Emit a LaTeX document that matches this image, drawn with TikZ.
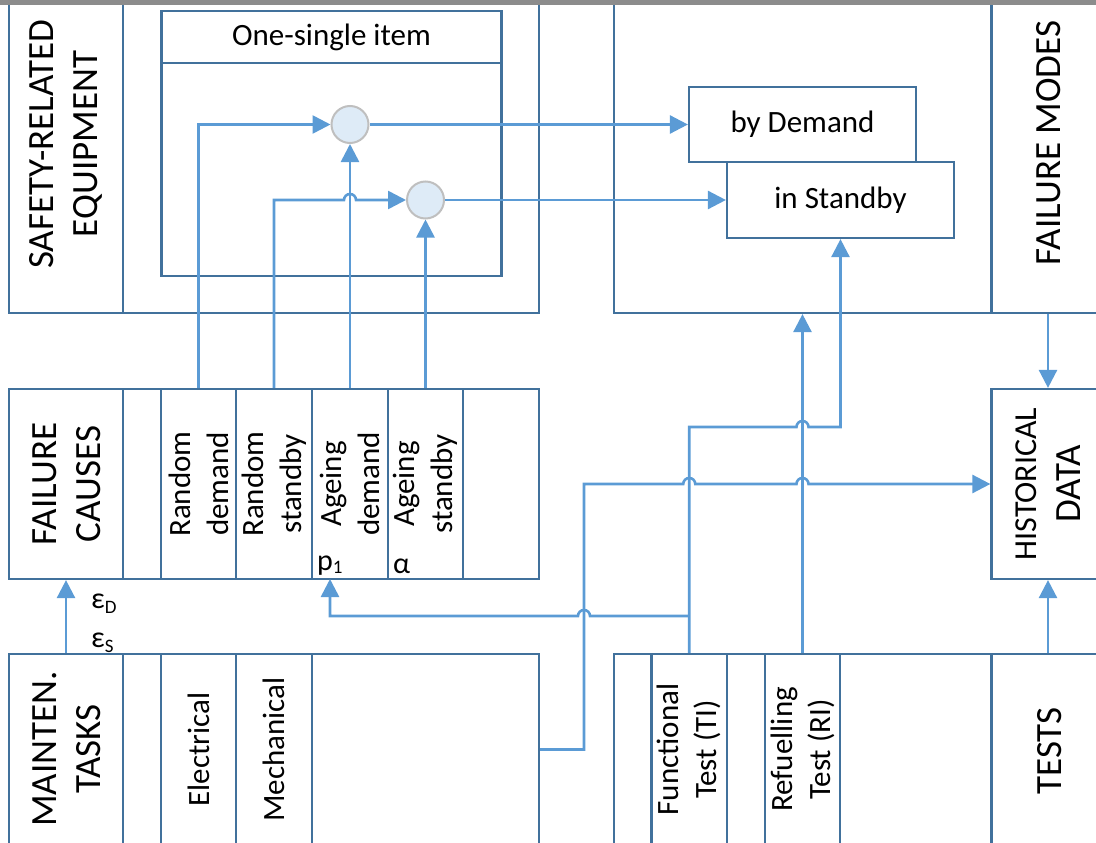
\documentclass[tikz,border=0pt]{standalone}
\usepackage{fontspec}
\setmainfont{Carlito}
\usetikzlibrary{arrows.meta,fit,calc}
\definecolor{boxc}{HTML}{41719C}
\definecolor{arrc}{HTML}{5B9BD5}
\definecolor{circf}{HTML}{DEEBF7}
\definecolor{circb}{HTML}{BFBFBF}
\definecolor{barc}{HTML}{8C8C8C}
\tikzset{
  cell/.style={draw=boxc, line width=2.2pt, inner sep=0pt},
  rot/.style={rotate=90, align=center, inner sep=0pt},
  bigf/.style={font=\fontsize{37}{44}\selectfont},
  midf/.style={font=\fontsize{31}{38}\selectfont},
  arr/.style={draw=arrc, line width=2.6pt, -{Triangle[length=18pt,width=18pt]}},
  gate/.style={circle, draw=circb, line width=2pt, fill=circf, minimum size=37pt, inner sep=0pt},
}
\begin{document}
\begin{tikzpicture}[x=1pt,y=-1pt]
\useasboundingbox (0,0) rectangle (1096,843);
\clip (0,0) rectangle (1096,843);
% top row
\node[cell, fit={(9,-20) (123,313)}] (sL) {};
\node[cell, fit={(123,-20) (539,313)}] (sB) {};
\node[cell, fit={(161.5,11) (501.5,276)}] (item) {};
\node[cell, fit={(161.5,11) (501.5,63)}] (itemH) {};
\node[cell, fit={(614,-20) (991.5,313)}] (fmB) {};
\node[cell, fit={(991.5,-20) (1104.5,313)}] (fmL) {};
\node[cell, fit={(689,87) (916,162)}] (dem) {};
\node[cell, fit={(727,162) (954,238)}] (stb) {};
\node[midf, inner sep=0pt] (tItem) at (itemH.center) {One-single item};
\node[midf, inner sep=0pt] (tDem) at (dem.center) {by Demand};
\node[midf, inner sep=0pt] (tStb) at (stb.center) {in Standby};
% middle row
\node[cell, fit={(9,389) (123,579)}] (cL) {};
\node[cell, fit={(123,389) (161,579)}] (cB1) {};
\node[cell, fit={(161,389) (236,579)}] (rd) {};
\node[cell, fit={(236,389) (312,579)}] (rs) {};
\node[cell, fit={(312,389) (388,579)}] (ad) {};
\node[cell, fit={(388,389) (463,579)}] (as) {};
\node[cell, fit={(463,389) (539,579)}] (cB2) {};
\node[cell, fit={(991.5,389) (1104.5,579)}] (hist) {};
% bottom row
\node[cell, fit={(9,654) (123,845)}] (mL) {};
\node[cell, fit={(123,654) (161,845)}] (mB1) {};
\node[cell, fit={(161,654) (236,845)}] (el) {};
\node[cell, fit={(236,654) (312,845)}] (me) {};
\node[cell, fit={(312,654) (539,845)}] (mB) {};
\node[cell, fit={(614,654) (651.5,845)}] (tB1) {};
\node[cell, fit={(651.5,654) (727,845)}] (ft) {};
\node[cell, fit={(727,654) (765,845)}] (tB2) {};
\node[cell, fit={(765,654) (840,845)}] (rt) {};
\node[cell, fit={(840,654) (991.5,845)}] (tB3) {};
\node[cell, fit={(991.5,654) (1104.5,845)}] (tL) {};
% labels
\node[rot, bigf] (tS) at (66,144) {SAFETY-RELATED\\EQUIPMENT};
\node[rot, bigf] (tFM) at (1049,143) {FAILURE MODES};
\node[rot, bigf] (tFC) at (67,484) {FAILURE\\CAUSES};
\node[rot, bigf] (tH) at (1048,484) {{\fontsize{32}{38}\selectfont HISTORICAL}\\DATA};
\node[rot, bigf] (tMT) at (67,749) {MAINTEN.\\TASKS};
\node[rot, bigf] (tT) at (1050,751) {TESTS};
\node[rot, midf] (tRD) at (rd.center) {Random\\demand};
\node[rot, midf] (tRS) at (rs.center) {Random\\standby};
\node[rot, midf] (tAD) at (ad.center) {Ageing\\demand};
\node[rot, midf] (tAS) at (as.center) {Ageing\\standby};
\node[rot, midf] (tEl) at (el.center) {Electrical};
\node[rot, midf] (tMe) at (me.center) {Mechanical};
\node[rot, midf] (tFT) at (ft.center) {Functional\\Test (TI)};
\node[rot, midf] (tRT) at (rt.center) {Refuelling\\Test (RI)};
\node[anchor=west, inner sep=0pt, font=\fontsize{30}{36}\selectfont] (eD) at (91,604) {ε{\fontsize{19}{20}\selectfont\raisebox{-5pt}{D}}};
\node[anchor=west, inner sep=0pt, font=\fontsize{30}{36}\selectfont] (eS) at (91,643) {ε{\fontsize{19}{20}\selectfont\raisebox{-5pt}{S}}};
\node[anchor=west, inner sep=0pt, font=\fontsize{30}{36}\selectfont] (p1) at (317,566) {p{\fontsize{19}{20}\selectfont\raisebox{-3pt}{1}}};
\node[anchor=west, inner sep=0pt, font=\fontsize{30}{36}\selectfont] (al) at (393,566) {α};
% gates
\node[gate] (c1) at (350,124.5) {};
\node[gate] (c2) at (425.5,200) {};
% connectors
\draw[arr] (rd.north) |- (c1.west);
\draw[arr] (rs.north) |- ($(ad.north |- c2.west)+(-6,0)$) arc[start angle=180,end angle=0,radius=6pt] -- (c2.west);
\draw[arr] (ad.north) -- (c1.south);
\draw[arr] (as.north) -- (c2.south);
\draw[arr] (c1.east) -- (dem.west);
\draw[arr] (c2.east) -- (stb.west);
\draw[arr] (fmL.south) -- (hist.north);
\draw[arr] (tL.north) -- (hist.south);
\draw[arr] (mL.north) -- (cL.south);
\coordinate (mUp) at (584,484);
\coordinate (fY) at (0,427);
\coordinate (pY) at (0,616);
\coordinate (p1in) at (330,579);
\draw[arr] (mB.east) -| (mUp) -- ($(ft.north |- mUp)+(-6,0)$) arc[start angle=180,end angle=0,radius=6pt] -- ($(rt.north |- mUp)+(-6,0)$) arc[start angle=180,end angle=0,radius=6pt] -- (hist.west);
\draw[arr] (ft.north) -- (ft.north |- fY) -- ($(rt.north |- fY)+(-6,0)$) arc[start angle=180,end angle=0,radius=6pt] -- (stb.south |- fY) -- (stb.south);
\draw[arr] (ft.north |- pY) -- ($(mUp |- pY)+(6,0)$) arc[start angle=0,end angle=180,radius=6pt] -- (p1in |- pY) -- (p1in);
\draw[arr] (rt.north) -- (rt.north |- fmB.south);
% top bar
\fill[barc] (0,0) rectangle (1096,5);
\end{tikzpicture}
\end{document}
